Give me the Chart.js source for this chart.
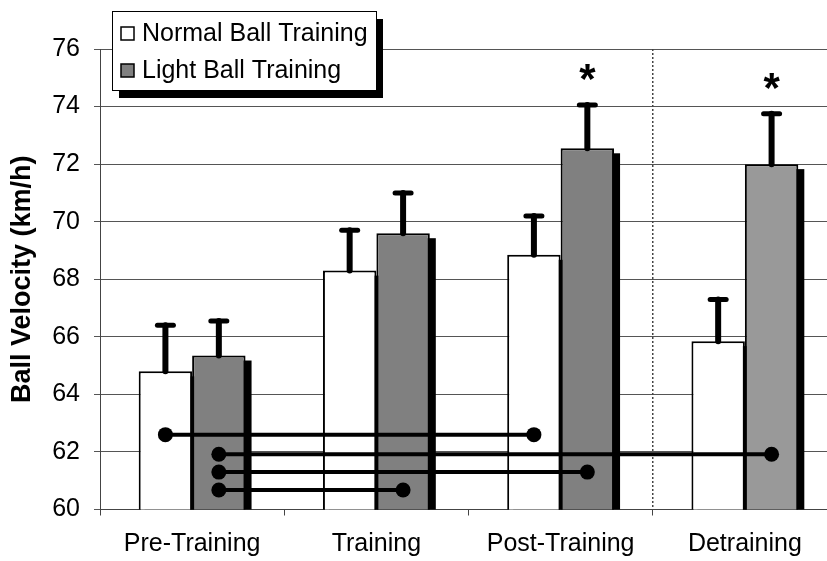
<!DOCTYPE html>
<html>
<head>
<meta charset="utf-8">
<script src="https://cdn.jsdelivr.net/npm/chart.js@4.4.1/dist/chart.umd.min.js"></script>
<style>
  html, body { margin: 0; padding: 0; background: #fff; overflow: hidden; }
  #wrap { width: 837px; height: 561px; }
</style>
</head>
<body>
<div id="wrap"><canvas id="grafico" width="837" height="561"></canvas></div>
<script>
// categorias e valores
const fases = ["Pre-Training", "Training", "Post-Training", "Detraining"];
const normalBall = [64.8, 68.3, 68.85, 65.85];
const lightBall = [65.35, 69.6, 72.55, 72.0];
const normalErro = [1.6, 1.4, 1.35, 1.45];
const lightErro = [1.2, 1.4, 1.5, 1.75];
const lightAsterisco = [false, false, true, true];
const yTicks = [60, 62, 64, 66, 68, 70, 72, 74, 76];

// linhas de comparação: [serie, fase] -> [serie, fase] no nível y
const compDe = [[0, 0], [1, 0], [1, 0], [1, 0]];
const compPara = [[0, 2], [1, 3], [1, 2], [1, 1]];
const compNivel = [62.6, 61.92, 61.3, 60.68];

const fonte = "'Liberation Sans', Arial, sans-serif";

// sombra preta atrás das barras + linha pontilhada
const sombraPlugin = {
    id: "sombra",
    beforeDatasetsDraw(chart) {
        const ctx = chart.ctx;
        const area = chart.chartArea;
        ctx.save();
        ctx.beginPath();
        ctx.rect(area.left, area.top, area.right - area.left, area.bottom - area.top);
        ctx.clip();
        chart.data.datasets.forEach((ds, i) => {
            chart.getDatasetMeta(i).data.forEach((bar) => {
                const w = bar.width;
                ctx.fillStyle = "#000";
                ctx.fillRect(bar.x - w / 2 + 6, bar.y + 5, w, bar.base - bar.y);
            });
        });
        ctx.restore();

        // divisória entre Post-Training e Detraining
        const x = chart.scales.x;
        const xDiv = (x.getPixelForValue(2) + x.getPixelForValue(3)) / 2;
        ctx.save();
        ctx.strokeStyle = "#444";
        ctx.lineWidth = 1.5;
        ctx.setLineDash([2, 2]);
        ctx.beginPath();
        ctx.moveTo(xDiv, area.top);
        ctx.lineTo(xDiv, area.bottom);
        ctx.stroke();
        ctx.restore();
    }
};

// barras de erro, linhas de comparação, asteriscos e legenda
const extrasPlugin = {
    id: "extras",
    afterDatasetsDraw(chart) {
        const ctx = chart.ctx;
        const y = chart.scales.y;
        const erros = [normalErro, lightErro];

        ctx.save();
        ctx.strokeStyle = "#000";
        ctx.lineCap = "round";
        chart.data.datasets.forEach((ds, i) => {
            chart.getDatasetMeta(i).data.forEach((bar, j) => {
                const topo = y.getPixelForValue(ds.data[j] + erros[i][j]);
                ctx.lineWidth = 6;
                ctx.beginPath();
                ctx.moveTo(bar.x, bar.y);
                ctx.lineTo(bar.x, topo);
                ctx.stroke();
                ctx.lineWidth = 5;
                ctx.beginPath();
                ctx.moveTo(bar.x - 8, topo);
                ctx.lineTo(bar.x + 8, topo);
                ctx.stroke();
            });
        });

        // linhas com pontos
        ctx.lineCap = "butt";
        compNivel.forEach((nivel, k) => {
            const a = chart.getDatasetMeta(compDe[k][0]).data[compDe[k][1]];
            const b = chart.getDatasetMeta(compPara[k][0]).data[compPara[k][1]];
            const py = y.getPixelForValue(nivel);
            ctx.lineWidth = 4;
            ctx.beginPath();
            ctx.moveTo(a.x, py);
            ctx.lineTo(b.x, py);
            ctx.stroke();
            [a.x, b.x].forEach((px) => {
                ctx.beginPath();
                ctx.arc(px, py, 7.5, 0, Math.PI * 2);
                ctx.fillStyle = "#000";
                ctx.fill();
            });
        });

        // asteriscos
        ctx.fillStyle = "#000";
        ctx.font = "bold 42px " + fonte;
        ctx.textAlign = "center";
        ctx.textBaseline = "alphabetic";
        chart.getDatasetMeta(1).data.forEach((bar, j) => {
            if (!lightAsterisco[j]) return;
            const topo = y.getPixelForValue(lightBall[j] + lightErro[j]);
            ctx.fillText("*", bar.x, topo - 12);
        });
        ctx.restore();

        // legenda com sombra
        const lx = 112, ly = 11, lw = 264, lh = 79;
        ctx.save();
        ctx.fillStyle = "#000";
        ctx.fillRect(lx + 7, ly + 8, lw, lh);
        ctx.fillStyle = "#fff";
        ctx.fillRect(lx, ly, lw, lh);
        ctx.strokeStyle = "#000";
        ctx.lineWidth = 1;
        ctx.strokeRect(lx + 0.5, ly + 0.5, lw, lh);
        ctx.font = "25px " + fonte;
        ctx.textAlign = "left";
        ctx.textBaseline = "middle";
        const cores = ["#ffffff", "#808080"];
        chart.data.datasets.forEach((ds, i) => {
            const cy = ly + 22 + i * 37;
            ctx.fillStyle = cores[i];
            ctx.fillRect(lx + 9, cy - 6, 13, 13);
            ctx.strokeStyle = "#000";
            ctx.lineWidth = 1.5;
            ctx.strokeRect(lx + 9, cy - 6, 13, 13);
            ctx.fillStyle = "#000";
            ctx.fillText(ds.label, lx + 30, cy + 1);
        });
        ctx.restore();
    }
};

const contexto = document.getElementById("grafico").getContext("2d");
new Chart(contexto, {
    type: "bar",
    data: {
        labels: fases,
        datasets: [
            {
                label: "Normal Ball Training",
                data: normalBall,
                backgroundColor: "#ffffff",
                borderColor: "#000",
                borderWidth: 2
            },
            {
                label: "Light Ball Training",
                data: lightBall,
                backgroundColor: ["#808080", "#808080", "#808080", "#999999"],
                borderColor: "#000",
                borderWidth: 2
            }
        ]
    },
    options: {
        responsive: false,
        animation: false,
        datasets: {
            bar: { categoryPercentage: 0.58, barPercentage: 1 }
        },
        layout: { padding: { top: 49, right: 0, left: 0, bottom: 0 } },
        plugins: {
            legend: { display: false },
            tooltip: { enabled: false }
        },
        scales: {
            x: {
                grid: {
                    display: true,
                    drawOnChartArea: false,
                    drawTicks: true,
                    tickLength: 6,
                    offset: true,
                    color: "#444"
                },
                border: { color: "#444", width: 1 },
                ticks: {
                    color: "#000",
                    font: { family: fonte, size: 25 },
                    padding: 14
                },
                afterFit(scale) { scale.height = 51.5; }
            },
            y: {
                min: 60,
                max: 76,
                afterBuildTicks(scale) {
                    scale.ticks = yTicks.map((v) => ({ value: v }));
                },
                grid: {
                    color: "#555",
                    lineWidth: 1,
                    tickLength: 6
                },
                border: { color: "#444", width: 1 },
                ticks: {
                    color: "#000",
                    font: { family: fonte, size: 25 },
                    padding: 14
                },
                title: {
                    display: true,
                    text: "Ball Velocity (km/h)",
                    color: "#000",
                    font: { family: fonte, size: 27, weight: "bold" },
                    padding: { top: 6, bottom: 8 }
                },
                afterFit(scale) { scale.width = 100; }
            }
        }
    },
    plugins: [sombraPlugin, extrasPlugin]
});
</script>
</body>
</html>
